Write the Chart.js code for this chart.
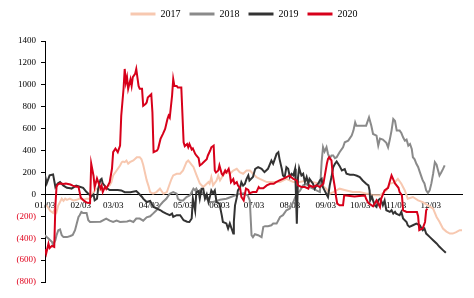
<!DOCTYPE html>
<html>
<head>
<meta charset="utf-8">
<script src="https://cdn.jsdelivr.net/npm/chart.js@4.4.1/dist/chart.umd.min.js"></script>
<style>
  html, body { margin: 0; padding: 0; background: #fff; }
  #wrap { width: 474px; height: 298px; position: relative; }
</style>
</head>
<body>
<div id="wrap"><canvas id="chart"></canvas></div>
<script>
// x = days counted from 01/03, y = spread value
const tickDays = [0, 31, 59, 90, 120, 151, 181, 212, 243, 273, 304, 334];
const tickLabels = ['01/03', '02/03', '03/03', '04/03', '05/03', '06/03', '07/03', '08/03', '09/03', '10/03', '11/03', '12/03'];
const years = ['2017', '2018', '2019', '2020'];

const series2017 = [[1.5,-100],[4.5,-150],[7,-170],[8.5,-130],[10,-161],[11.5,-100],[13,-70],[14.5,-39],[16,-60],[17.5,-39],[19,-50],[21.5,-39],[24.5,-55],[27.5,-50],[30,-39],[33,-50],[36,-39],[39,-39],[40.5,-9],[42,21],[44.5,52],[47.5,36],[50.5,52],[53.5,67],[56,82],[57.5,112],[59,173],[62,218],[65,264],[66.5,294],[67.5,300],[69,294],[70.5,309],[72,280],[73.5,294],[76.5,309],[79.5,339],[82,339],[83.5,320],[85,270],[86.5,200],[88,130],[89.5,80],[91,21],[93.5,6],[96.5,21],[99.5,52],[102.5,6],[105.5,21],[108,97],[109.5,140],[111,173],[114,188],[117,188],[119.5,218],[122.5,294],[124,309],[125.5,290],[127,270],[128.5,250],[131,180],[134,100],[137,67],[140,97],[141.5,112],[142.5,97],[144,158],[145.5,82],[148.5,127],[150,173],[151.5,127],[154,173],[157,203],[160,188],[163,218],[166,233],[168.5,203],[171.5,188],[174.5,218],[177.5,218],[180,188],[183,158],[186,142],[192,112],[197.5,112],[203.5,112],[209,142],[215,112],[220.5,112],[226.5,127],[232,112],[238,97],[243.5,52],[246.5,6],[249.5,21],[255,52],[261,36],[266.5,21],[272.5,21],[278.5,6],[281,6],[284,-9],[290,-9],[295.5,36],[298.5,97],[303,112],[305.5,142],[308.5,97],[311.5,36],[314,-39],[318.5,-24],[323,-55],[327,-70],[331.5,-100],[336,-130],[339,-206],[341.5,-250],[344.5,-312],[347.5,-340],[350.5,-358],[353,-358],[356,-345],[359,-327],[361,-327]];

const series2018 = [[0,-373],[1.5,-390],[3,-403],[4.5,-418],[6,-433],[7,-460],[9,-418],[10,-373],[11.5,-327],[13,-320],[14.5,-373],[16,-390],[19,-390],[22,-380],[24,-370],[26,-327],[27.5,-267],[29,-206],[30,-191],[31.5,-160],[33,-170],[36,-170],[37.5,-236],[39,-252],[48,-250],[53,-221],[56,-240],[59,-252],[62,-240],[65,-252],[71,-248],[73.5,-240],[76.5,-252],[79,-221],[82,-221],[85,-240],[88,-210],[91,-200],[93.5,-176],[96.5,-145],[99.5,-100],[102,-70],[105,-40],[108,6],[111,21],[114,6],[115,-40],[117,-55],[119.5,-55],[122.5,-24],[125.5,-9],[127,21],[128.5,52],[130,36],[131,52],[132.5,21],[134,36],[137,6],[140,-39],[142.5,-70],[145.5,-70],[148.5,-60],[151.5,-50],[157,-40],[162,-20],[167,0],[172,10],[175.5,-10],[177.3,-55],[178.8,-373],[180,-391],[181.7,-364],[184.5,-373],[187.5,-391],[189,-297],[190.5,-290],[193,-290],[196,-282],[197.5,-267],[200.5,-267],[203.5,-206],[206,-190],[209,-145],[212,-130],[215,-70],[216.5,-30],[218,6],[220.5,30],[223.5,82],[226.5,97],[229,67],[232,52],[235,36],[238,21],[239.5,300],[240.7,430],[242,390],[243.7,430],[245,370],[246.5,330],[248,355],[249.5,355],[251,330],[252.5,339],[255,385],[258,430],[259.5,476],[262.5,490],[265.5,536],[267,582],[268.5,657],[269.5,627],[272.5,627],[278,627],[280.5,703],[282.5,627],[284,551],[287,536],[288.5,445],[290,510],[292.5,500],[295.5,470],[297,430],[298.5,500],[300,582],[301.5,688],[303,670],[304.5,582],[307,582],[308.5,560],[310,521],[311.5,490],[313,500],[314.5,445],[316,460],[317.5,415],[318.5,339],[320,320],[321.5,279],[323,250],[324.5,203],[326,158],[327,127],[328.5,100],[330,36],[331.5,12],[333,36],[334.5,100],[336,188],[337.5,294],[339,270],[340,230],[341.5,173],[343,200],[344.5,230],[346,264]];

const series2019 = [[0,173],[1.5,100],[4,173],[7,182],[9,67],[11,100],[13,112],[16,80],[19,60],[22,55],[23,52],[27,80],[30,70],[33,60],[36,21],[39,-9],[40,-20],[42,0],[43,-55],[45,-40],[46,50],[48,133],[49,142],[50,100],[53,60],[56,40],[59,40],[63,40],[66,36],[69,20],[74,20],[79,30],[81,10],[84,-24],[85,-39],[88,-70],[91,-60],[94,-115],[97,-130],[100,-145],[102,-160],[105,-176],[108,-190],[110,-176],[111,-206],[114,-190],[117,-190],[120,-236],[123,-250],[125,-252],[127,-220],[128,-39],[130,-150],[131,21],[133,30],[134,-39],[135.5,52],[137,52],[138.5,-39],[140,0],[141.5,-70],[143,-10],[144,36],[145.5,10],[147,36],[148.5,-70],[151,-85],[153,-190],[154,-252],[157,-265],[158.5,-312],[160,-265],[161.5,-312],[163,-358],[163.5,-250],[164.5,-100],[166,-30],[167,36],[169,67],[170,112],[171.5,80],[173,95],[174.5,142],[176,173],[177,127],[180,158],[182,233],[184.5,248],[187.5,233],[190,203],[193,233],[196,309],[197.5,279],[199,324],[200.5,370],[202,385],[203,324],[205,233],[206,173],[207.5,158],[209,248],[210.5,233],[212,158],[213.5,188],[215,173],[216.5,233],[217,82],[218,-267],[219,150],[220,240],[221,203],[222,173],[223.5,188],[225,112],[226.5,158],[228,97],[229,142],[232,97],[233.5,52],[235,82],[236.5,97],[238,127],[239.5,142],[240.5,67],[242,36],[243.5,6],[245,-24],[246.5,82],[248,158],[249.5,248],[251,279],[252.5,300],[255,260],[257,218],[259.5,230],[261,188],[264,180],[267,180],[270,170],[272.5,158],[275,127],[278,97],[280,82],[281,36],[281.5,-55],[283,-20],[284,-55],[285.5,-100],[287,-115],[288.5,-55],[290,-40],[291,-55],[292.5,-100],[294,-55],[295.5,-145],[298.5,-160],[300,-145],[301.5,-176],[303,-160],[304,-176],[307,-191],[308.5,-160],[310,-221],[313,-252],[314,-282],[315.5,-297],[318.5,-282],[321.5,-267],[324.5,-282],[326,-312],[327,-327],[328.5,-312],[330,-358],[333,-388],[336,-418],[339,-448],[341.5,-479],[344.5,-509],[347,-533]];

const series2020 = [[0,-500],[1,-540],[3,-450],[4,-490],[6,-470],[8,-480],[9,-100],[10,70],[11,90],[13,100],[16,95],[18,100],[22,90],[24,80],[27,70],[29,70],[31,-30],[34,-60],[36,-75],[39,-80],[40,280],[42,170],[43,66],[45,145],[48,55],[49,80],[50,21],[52,70],[53,50],[56,112],[58,236],[59,385],[61,418],[63,385],[65,445],[66,718],[68,964],[69,1145],[70,1021],[71,1070],[72,964],[74,1050],[75,990],[76,1070],[78,1100],[79,1145],[81,990],[82,964],[84,964],[85,809],[87,825],[88,839],[89,885],[92,915],[93,750],[94,385],[97,400],[98,420],[100,506],[102,550],[104,597],[106,688],[107,718],[108,700],[110,900],[111,1052],[112,990],[114,990],[115,975],[118,976],[120,476],[121,440],[123,460],[124,430],[125,460],[127,410],[128,420],[130,370],[131,355],[133,330],[134,264],[136,280],[137,290],[140,320],[141,355],[143,400],[144,430],[146,445],[147,218],[148,200],[150,218],[151,264],[153,188],[154,175],[156,218],[157,200],[159,233],[160,188],[161,112],[163,140],[164,97],[166,112],[167,82],[169,52],[170,-24],[172,-55],[173,0],[174,52],[176,40],[177,10],[180,21],[183,21],[185,67],[186,55],[189,55],[192,82],[195,97],[198,97],[200,112],[203,127],[206,142],[209,158],[212,173],[213,158],[215,142],[218,127],[219,82],[222,67],[225,67],[228,52],[229,82],[232,67],[235,82],[238,67],[241,97],[242,158],[244,279],[245,324],[246,339],[248,310],[249,188],[251,60],[252,-24],[253,-85],[255,-100],[258,-100],[259,-9],[264,-15],[268,-20],[272,-15],[277,-10],[278,-40],[280,-80],[284,-110],[287,-55],[290,-115],[291,-40],[294,36],[297,60],[298,100],[300,173],[303,100],[306,60],[307,20],[309,-10],[310,-145],[313,-160],[318,-160],[322,-160],[323,-200],[324,-327],[327,-310],[329,-252],[330,-145],[331,-130]];

const serif = "'Liberation Serif', 'Times New Roman', serif";
const negRed = '#e0001b';

function toPoints(pairs) {
    return pairs.map(p => ({ x: p[0], y: p[1] }));
}

function makeSet(label, pairs, color, order) {
    return {
        label: label,
        data: toPoints(pairs),
        borderColor: color,
        backgroundColor: color,
        borderWidth: 2,
        pointRadius: 0,
        tension: 0,
        order: order
    };
}

// push the plot area down under the legend, and centre the legend a bit to the right
const legendSpacer = {
    id: 'legendSpacer',
    beforeInit(chart) {
        const origFit = chart.legend.fit;
        chart.legend.fit = function fit() {
            origFit.bind(chart.legend)();
            this.height += 12;
        };
    },
    beforeDraw(chart) {
        chart.legend.left = 26;
    }
};

new Chart(document.getElementById('chart'), {
    type: 'line',
    data: {
        datasets: [
            makeSet(years[0], series2017, '#f7c8b0', 4),
            makeSet(years[1], series2018, '#8a8a8a', 3),
            makeSet(years[2], series2019, '#333333', 2),
            makeSet(years[3], series2020, '#d7001a', 1)
        ]
    },
    plugins: [legendSpacer],
    options: {
        responsive: true,
        maintainAspectRatio: false,
        animation: false,
        layout: { padding: { top: 0, right: 12, bottom: 16, left: 0 } },
        plugins: {
            tooltip: { enabled: false },
            legend: {
                position: 'top',
                labels: {
                    boxWidth: 25,
                    boxHeight: 3,
                    padding: 9,
                    color: '#000',
                    font: { family: serif, size: 10 },
                    generateLabels: chart => chart.data.datasets.map((ds, i) => ({
                        text: ds.label,
                        fillStyle: ds.borderColor,
                        strokeStyle: ds.borderColor,
                        lineWidth: 0,
                        hidden: false,
                        datasetIndex: i,
                        fontColor: '#000'
                    }))
                }
            }
        },
        scales: {
            x: {
                type: 'linear',
                min: 0,
                max: 361,
                position: { y: 0 },
                grid: { drawOnChartArea: false, drawTicks: false },
                border: { color: '#000', width: 1 },
                afterBuildTicks: scale => {
                    scale.ticks = tickDays.map(v => ({ value: v }));
                },
                ticks: {
                    autoSkip: false,
                    maxRotation: 0,
                    padding: 6,
                    color: '#000',
                    font: { family: serif, size: 9 },
                    callback: (value, index) => tickLabels[index]
                }
            },
            y: {
                min: -800,
                max: 1400,
                afterFit: scale => { scale.width = 45; },
                grid: { drawOnChartArea: false, tickLength: 4, color: '#000' },
                border: { color: '#000', width: 1 },
                ticks: {
                    stepSize: 200,
                    padding: 5,
                    font: { family: serif, size: 9 },
                    color: ctx => (ctx.tick && ctx.tick.value < 0 ? negRed : '#000'),
                    callback: v => (v < 0 ? '(' + (-v) + ')' : String(v))
                }
            }
        }
    }
});
</script>
</body>
</html>
